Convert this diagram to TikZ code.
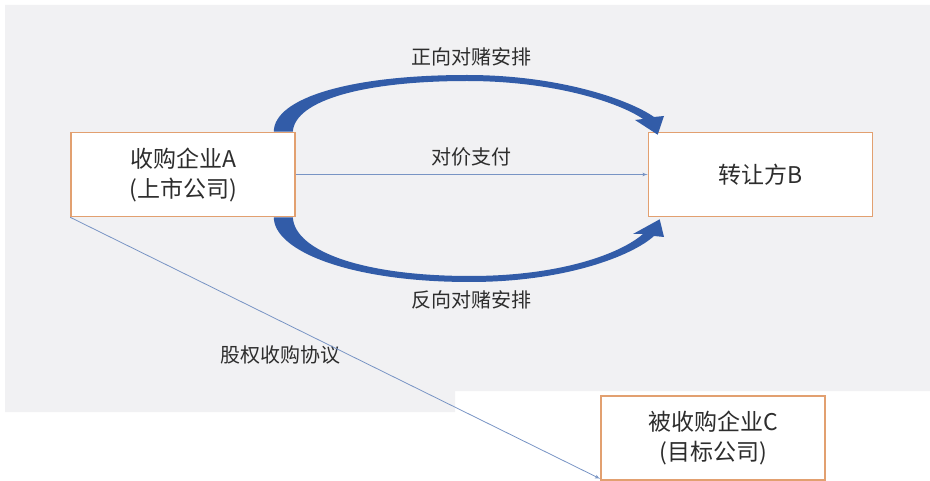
\documentclass[tikz,border=0pt]{standalone}
\usepackage{fontspec}
\newfontfamily\cjk{Noto Sans CJK SC}
\usepackage{xcolor}
\usepackage{tikz}
\usetikzlibrary {positioning}
\usetikzlibrary{arrows}
\definecolor{bggray}{RGB}{241,241,243}
\definecolor{boxline}{RGB}{226,160,112}
\definecolor{swoosh}{RGB}{50,92,168}
\definecolor{thinline}{RGB}{120,148,196}
\definecolor{txt}{RGB}{45,45,45}
\tikzset{edge/.style = {->,> = latex',thinline,line width=0.8pt}}

\begin{document}
\begin{tikzpicture}[x=1pt,y=-1pt,node distance=577.5pt,
    party node/.style={rectangle,draw=boxline,line width=1.6pt,fill=white,minimum width=224pt,minimum height=84pt,inner sep=0pt,align=center,text=txt,font=\cjk\fontsize{23}{30}\selectfont},
    label node/.style={text=txt,inner sep=0pt,font=\cjk\fontsize{20}{24}\selectfont}]
                \useasboundingbox (0,0) rectangle (930,481);
                \fill[bggray] (5,5) -- (930,5) -- (930,391) -- (455,391) -- (455,412) -- (5,412) -- cycle;

                \node[party node] (A) at (183,174.5) {收购企业A\\(上市公司)};
                \node[party node] (B) [right of=A] {转让方B};
                \node[party node] (C) at (713,438) {被收购企业C\\(目标公司)};

                % block arrows over and under the payment line
                \fill[swoosh] ([xshift=-22pt]A.north east) .. controls (274,98) and (350,75) .. (467,75)
                    .. controls (560,75) and (630,100) .. (654,117) -- (664,116)
                    -- ([xshift=10pt,yshift=-3pt]B.north west) -- (635,120) -- (643,119)
                    .. controls (620,103) and (555,81) .. (467,81)
                    .. controls (365,81) and (295,100) .. ([xshift=-3pt]A.north east) -- cycle;
                \fill[swoosh] ([xshift=-22pt]A.south east) .. controls (274,251) and (350,282) .. (470,282)
                    .. controls (565,282) and (632,256) .. (654,236) -- (664,237)
                    -- ([xshift=12pt,yshift=-2pt]B.south west) -- (633,234) -- (643,234)
                    .. controls (620,254) and (560,276) .. (470,276)
                    .. controls (365,276) and (295,252) .. ([xshift=-3pt]A.south east) -- cycle;

                \node[label node] (forward) at (471,57) {正向对赌安排};
                \node[label node] (pay) at (471,157) {对价支付};
                \node[label node] (reverse) at (471,300) {反向对赌安排};
                \node[label node] (equity) at (280,355) {股权收购协议};

                \path[edge] (A) edge (B);
                \path[edge] (A.south west) edge ([yshift=2pt]C.south west);
            \end{tikzpicture}
\end{document}
